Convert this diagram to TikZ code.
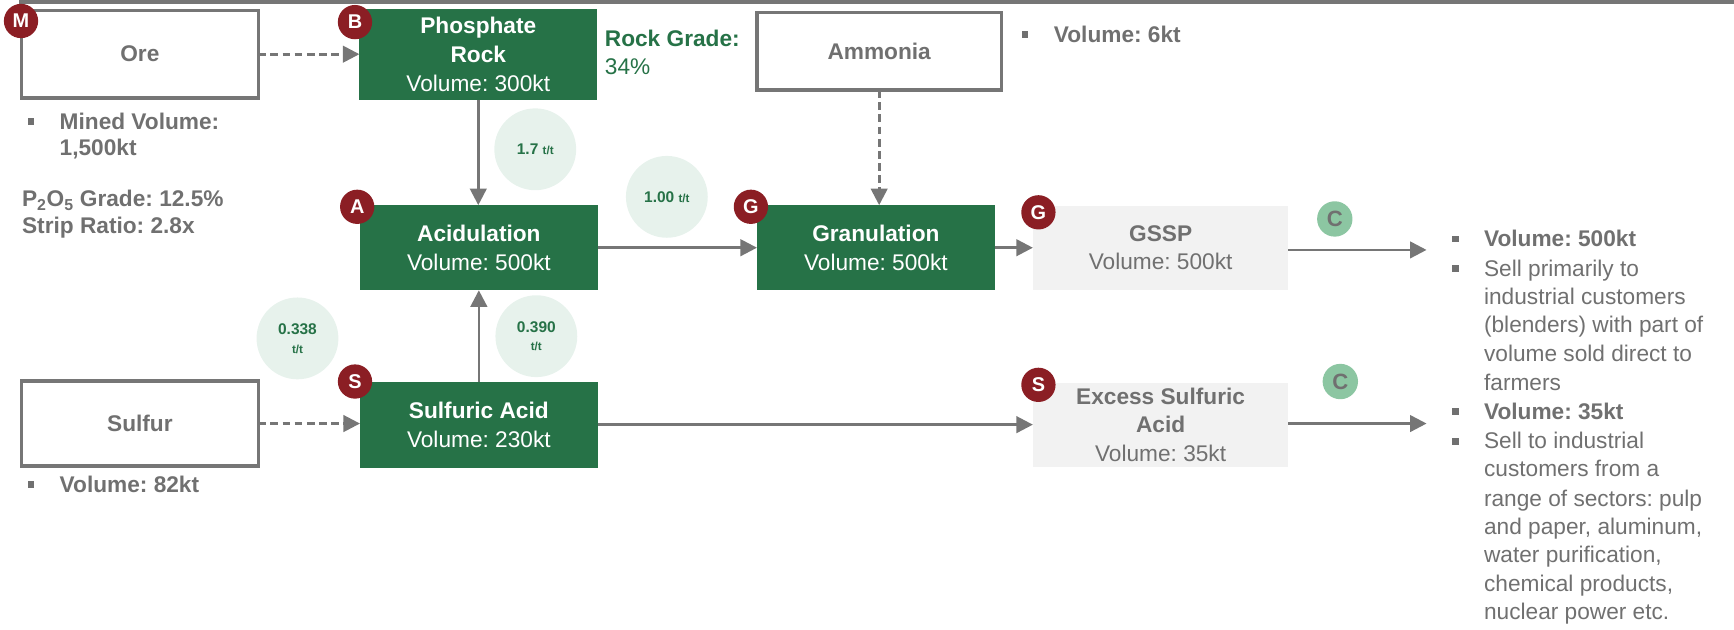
\documentclass[tikz,border=0pt]{standalone}
\usepackage{fontspec}
\setmainfont{Liberation Sans}
\usetikzlibrary{arrows.meta}
\definecolor{grn}{RGB}{38,114,71}
\definecolor{dred}{RGB}{139,30,36}
\definecolor{gtxt}{RGB}{112,112,112}
\definecolor{gline}{RGB}{118,118,118}
\definecolor{lgrn}{RGB}{231,242,236}
\definecolor{cgrn}{RGB}{140,198,162}
\definecolor{lgray}{RGB}{242,242,242}
\newcommand{\bul}{\makebox[29pt][l]{\raisebox{4pt}{\rule{6pt}{6pt}}}}
\frenchspacing
\begin{document}
\begin{tikzpicture}[x=1pt,y=1pt,
  every node/.style={inner sep=0pt, outer sep=0pt},
  obox/.style={draw=gline, line width=3pt, fill=white, minimum width=214, minimum height=79, text=gtxt, font=\bfseries\fontsize{20.5}{26}\selectfont},
  gbox/.style={fill=grn, text=white, minimum width=215, minimum height=77, align=center, font=\fontsize{20.5}{26}\selectfont},
  pbox/.style={fill=lgray, text=gtxt, minimum width=231, minimum height=76, align=center, font=\fontsize{20.5}{26}\selectfont},
  badge/.style={circle, fill=dred, text=white, minimum size=31, font=\bfseries\fontsize{18}{18}\selectfont},
  cbadge/.style={circle, fill=cgrn, text=gtxt, minimum size=32, font=\bfseries\fontsize{20}{20}\selectfont},
  ratio/.style={circle, fill=lgrn, text=grn, minimum size=74, align=center, font=\bfseries\fontsize{14}{17}\selectfont},
  tt/.style={font=\bfseries\fontsize{10.5}{12}\selectfont},
  note/.style={anchor=base west, text=gtxt, font=\fontsize{20.5}{26}\selectfont},
  bnote/.style={note, font=\bfseries\fontsize{20.5}{26}\selectfont},
  arr/.style={draw=gline, line width=2.4pt, -{Triangle[length=15pt,width=15pt]}},
  darr/.style={arr, dash pattern=on 7pt off 4pt}
]
\useasboundingbox (0,0) rectangle (1568,-569);
\fill[gline] (17,0) rectangle (1568,-4);

% boxes
\node[obox] (ore) at (126.5,-49) {Ore};
\node[gbox, minimum height=82] (rock) at (432.5,-49) {\textbf{Phosphate}\\\textbf{Rock}\\Volume: 300kt};
\node[obox, minimum width=221, minimum height=70] (amm) at (795,-46.5) {Ammonia};
\node[gbox] (acid) at (433,-224) {\textbf{Acidulation}\\Volume: 500kt};
\node[gbox] (gran) at (792,-224) {\textbf{Granulation}\\Volume: 500kt};
\node[pbox] (gssp) at (1049.5,-224) {\textbf{GSSP}\\Volume: 500kt};
\node[obox, minimum height=77] (sulfur) at (126.5,-383) {Sulfur};
\node[gbox, minimum height=78] (sa) at (433,-384) {\textbf{Sulfuric Acid}\\Volume: 230kt};
\node[pbox] (ex) at (1049.5,-384) {\textbf{Excess Sulfuric}\\\textbf{Acid}\\Volume: 35kt};

\coordinate (out1) at (1290,-226);
\coordinate (out2) at (1290,-383);

% connectors
\draw[darr] (ore.east) -- (rock.west);
\draw[arr] (rock.south) -- (rock.south |- acid.north);
\draw[darr] (amm.south) -- (amm.south |- gran.north);
\draw[arr] (acid.east) -- (gran.west);
\draw[arr] (gran.east) -- (gssp.west);
\draw[arr] (gssp.east |- out1) -- (out1);
\draw[arr] (sa.north) -- (sa.north |- acid.south);
\draw[darr] (sulfur.east) -- (sulfur.east -| sa.west);
\draw[arr] (sa.east) -- (sa.east -| ex.west);
\draw[arr] (ex.east |- out2) -- (out2);

% ratio circles
\node[ratio] (r1) at (484,-135) {1.7 {\fontsize{10.5}{12}\selectfont t/t}};
\node[ratio] (r2) at (603,-178) {1.00 {\fontsize{10.5}{12}\selectfont t/t}};
\node[ratio] (r3) at (485,-304) {0.390\\{\fontsize{10.5}{12}\selectfont t/t}};
\node[ratio] (r4) at (269,-306) {0.338\\{\fontsize{10.5}{12}\selectfont t/t}};

% badges
\node[badge] (bm) at (19,-19) {M};
\node[badge] (bb) at (321,-20) {B};
\node[badge] (ba) at (323,-187) {A};
\node[badge] (bg1) at (679,-187) {G};
\node[badge] (bg2) at (939,-192) {G};
\node[badge] (bs1) at (321,-345) {S};
\node[badge] (bs2) at (939,-348) {S};
\node[cbadge] (bc1) at (1207,-198) {C};
\node[cbadge] (bc2) at (1212,-345) {C};

% texts
\node[bnote, text=grn] (rg1) at (547,-42) {Rock Grade:};
\node[note, text=grn] (rg2) at (547,-67) {34\%};
\node[bnote] (av) at (924,-38) {\bul Volume: 6kt};
\node[bnote] (mv1) at (25,-117) {\bul Mined Volume:};
\node[bnote] (mv2) at (54,-141) {1,500kt};
\node[bnote] (pg) at (20,-187) {P\textsubscript{2}O\textsubscript{5} Grade: 12.5\%};
\node[bnote] (sr) at (20,-211) {Strip Ratio: 2.8x};
\node[bnote] (sv) at (25,-445) {\bul Volume: 82kt};

\node[bnote] (t1) at (1313,-223) {\bul Volume: 500kt};
\node[note] (t2) at (1313,-250) {\bul Sell primarily to};
\node[note] (t3) at (1342,-275) {industrial customers};
\node[note] (t4) at (1342,-301) {(blenders) with part of};
\node[note] (t5) at (1342,-327) {volume sold direct to};
\node[note] (t6) at (1342,-353) {farmers};
\node[bnote] (t7) at (1313,-379) {\bul Volume: 35kt};
\node[note] (t8) at (1313,-406) {\bul Sell to industrial};
\node[note] (t9) at (1342,-431) {customers from a};
\node[note] (t10) at (1342,-458) {range of sectors: pulp};
\node[note] (t11) at (1342,-483) {and paper, aluminum,};
\node[note] (t12) at (1342,-509) {water purification,};
\node[note] (t13) at (1342,-535) {chemical products,};
\node[note] (t14) at (1342,-560) {nuclear power etc.};
\end{tikzpicture}
\end{document}
